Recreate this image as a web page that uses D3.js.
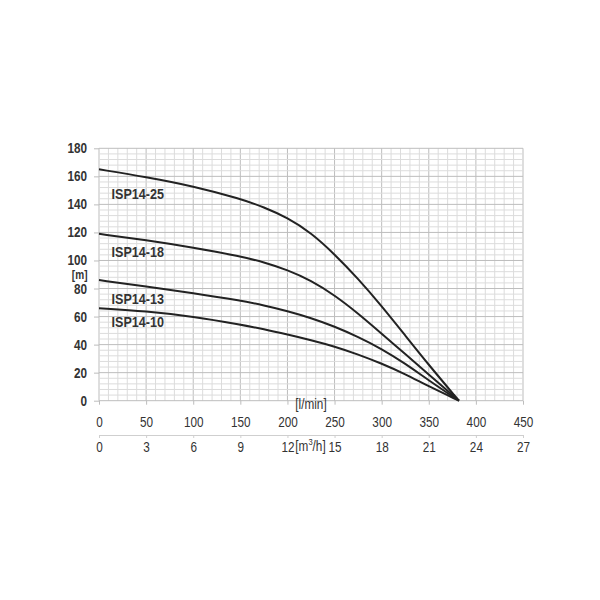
<!DOCTYPE html>
<html><head><meta charset="utf-8">
<script src="https://cdn.jsdelivr.net/npm/d3@7"></script>
<style>
html,body{margin:0;padding:0;background:#fff;}
svg{display:block;}
text{font-family:"Liberation Sans",Arial,sans-serif;fill:#333;}
</style></head>
<body>
<svg id="chart" width="600" height="600"></svg>
<script>
// ---- data ----
const flow  = [0, 50, 100, 150, 175, 200, 225, 250, 275, 300, 325, 350, 382];   // l/min
const isp25 = [165, 159.5, 153, 144, 138, 130.5, 119.8, 104.5, 87, 67.5, 46.5, 25.5, 0];
const isp18 = [119, 114.5, 109.2, 103, 98.75, 93.25, 85.75, 75.25, 62.25, 47.75, 33.25, 18.75, 0];
const isp13 = [86, 81.5, 76.8, 71.5, 68, 64, 59, 53, 45.5, 37, 26.5, 14.5, 0];
const isp10 = [66, 63.8, 60, 54.3, 51, 47.2, 43.2, 38.7, 33, 26.5, 19, 10.2, 0];
const seriesNames = ["ISP14-25", "ISP14-18", "ISP14-13", "ISP14-10"];
const xTicks = [0, 50, 100, 150, 200, 250, 300, 350, 400, 450];
const m3hLabels = ["0", "3", "6", "9", "12", "15", "18", "21", "24", "27"];
const yTicks = [0, 20, 40, 60, 80, 100, 120, 140, 160, 180];

const svg = d3.select("#chart");
const x = d3.scaleLinear().domain([0, 450]).range([99, 523]);
const y = d3.scaleLinear().domain([0, 180]).range([400.7, 148.3]);
const S = 0.84; // horizontal condensing to imitate a narrow typeface

function condense(sel) {
  sel.each(function () {
    const t = d3.select(this);
    const x0 = +t.attr("x") || 0;
    t.attr("transform", `translate(${x0},0) scale(${S},1) translate(${-x0},0)`);
  });
}

// ---- grid ----
const grid = svg.append("g");
grid.selectAll("line.vmin").data(d3.range(0, 451, 10)).join("line")
  .attr("x1", d => x(d)).attr("x2", d => x(d))
  .attr("y1", y(0)).attr("y2", y(180))
  .attr("stroke", d => d % 50 === 0 ? "#bdbdbd" : "#dcdcdc").attr("stroke-width", 1);
grid.selectAll("line.hmin").data(d3.range(0, 181, 4)).join("line")
  .attr("x1", x(0)).attr("x2", x(450))
  .attr("y1", d => y(d)).attr("y2", d => y(d))
  .attr("stroke", d => d % 20 === 0 ? "#bdbdbd" : "#dcdcdc").attr("stroke-width", 1);

// ---- axes ----
const yAxis = svg.append("g").attr("transform", `translate(${x(0)},0)`)
  .call(d3.axisLeft(y).tickValues(yTicks).tickSize(5).tickPadding(7));
yAxis.select(".domain").remove();
yAxis.selectAll(".tick line").attr("stroke", "#bdbdbd");
yAxis.selectAll(".tick text").attr("font-size", 14).attr("font-weight", "bold")
  .attr("font-family", null).attr("fill", "#333").call(condense);

const xAxis = svg.append("g").attr("transform", `translate(0,${y(0)})`)
  .call(d3.axisBottom(x).tickValues(xTicks).tickSize(4).tickPadding(12));
xAxis.select(".domain").remove();
xAxis.selectAll(".tick line").attr("stroke", "#bdbdbd");
xAxis.selectAll(".tick text").attr("font-size", 14)
  .attr("font-family", null).attr("fill", "#333").call(condense);

const x2Axis = svg.append("g").attr("transform", "translate(0,435)")
  .call(d3.axisBottom(x).tickValues(xTicks).tickSize(3).tickPadding(4)
    .tickFormat((d, i) => m3hLabels[i]));
x2Axis.select(".domain").attr("stroke", "#cfcfcf");
x2Axis.selectAll(".tick line").attr("stroke", "#cfcfcf");
x2Axis.selectAll(".tick text").attr("font-size", 14)
  .attr("font-family", null).attr("fill", "#333").call(condense);

// unit labels
svg.append("text").attr("x", 311).attr("y", 409).attr("text-anchor", "middle")
  .attr("font-size", 14).text("[l/min]").call(condense);
svg.append("text").attr("x", 87.5).attr("y", 279).attr("text-anchor", "end")
  .attr("font-size", 12).attr("font-weight", "bold").text("[m]").call(condense);
const m3 = svg.append("text").attr("x", (x(200) + x(250)) / 2 - 0.5).attr("y", 451.5)
  .attr("text-anchor", "middle").attr("font-size", 14);
m3.append("tspan").text("[m");
m3.append("tspan").attr("font-size", 9).attr("dy", -6).text("3");
m3.append("tspan").attr("dy", 6).text("/h]");
m3.call(condense);

// ---- curves ----
const allSeries = [isp25, isp18, isp13, isp10];
const line = d3.line().x(d => x(d[0])).y(d => y(d[1])).curve(d3.curveBasis);
svg.append("g").selectAll("path").data(allSeries).join("path")
  .attr("d", s => line(flow.map((f, i) => [f, s[i]])))
  .attr("fill", "none").attr("stroke", "#222").attr("stroke-width", 2);

// series labels
const labelBaselines = [199, 256.7, 304, 326.7];
svg.append("g").selectAll("text").data(seriesNames).join("text")
  .attr("x", 111.5).attr("y", (d, i) => labelBaselines[i])
  .attr("font-size", 15).attr("font-weight", "bold").attr("fill", "#333")
  .text(d => d).call(condense);
</script>
</body></html>
